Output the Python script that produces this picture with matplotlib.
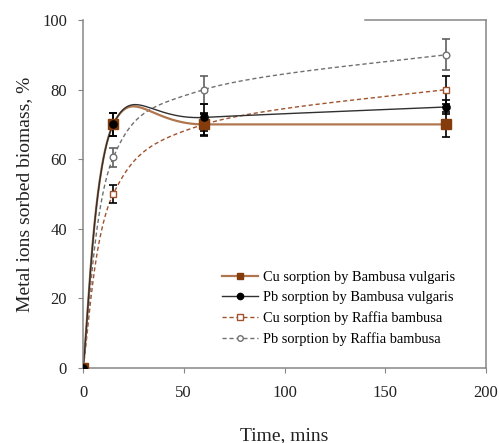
import numpy as np
import matplotlib
matplotlib.use("Agg")
import matplotlib.pyplot as plt
from matplotlib.lines import Line2D

# ---- data ----
time = [0, 15, 60, 180]
cu_bv = [0, 70, 70, 70]
pb_bv = [0, 70, 72, 75]
cu_rb = [0, 50, 70, 80]
pb_rb = [0, 60.5, 80, 90]
err_cu_bv = [0, 3.3, 3.3, 3.5]
err_pb_bv = [0, 3.3, 4.0, 2.0]
err_cu_rb = [0, 2.5, 3.0, 4.0]
err_pb_rb = [0, 2.7, 4.0, 4.5]
labels = ["Cu sorption by Bambusa vulgaris",
          "Pb sorption by Bambusa vulgaris",
          "Cu sorption by Raffia bambusa",
          "Pb sorption by Raffia bambusa"]
xticks = [0, 50, 100, 150, 200]
yticks = [0, 20, 40, 60, 80, 100]


def smooth(xs, ys, n=60):
    """Excel-style smoothed line (Catmull-Rom Bezier)."""
    P = np.column_stack([xs, ys]).astype(float)
    m = len(P)
    out = []
    for i in range(m - 1):
        p0 = P[max(i - 1, 0)]
        p1 = P[i]
        p2 = P[i + 1]
        p3 = P[min(i + 2, m - 1)]
        c1 = p1 + (p2 - p0) / 6.0
        c2 = p2 - (p3 - p1) / 6.0
        t = np.linspace(0, 1, n)[:, None]
        seg = ((1 - t) ** 3) * p1 + 3 * ((1 - t) ** 2) * t * c1 \
            + 3 * (1 - t) * t ** 2 * c2 + t ** 3 * p2
        out.append(seg if i == 0 else seg[1:])
    c = np.vstack(out)
    return c[:, 0], c[:, 1]


plt.rcParams['font.family'] = ['Liberation Serif', 'DejaVu Serif']

W, H = 499, 443
fig = plt.figure(figsize=(W / 100, H / 100), dpi=100)
L, R, T, B = 83, 486, 20, 368
ax = fig.add_axes([L / W, 1 - B / H, (R - L) / W, (B - T) / H])

brown = '#843c0c'
brown_line = '#b0764f'
brown_dash = '#a0522d'
gray = '#707070'

# curves
x, y = smooth(time, cu_rb)
ax.plot(x, y, color=brown_dash, lw=1.0, ls=(0, (3, 2)), zorder=2)
x, y = smooth(time, pb_rb)
ax.plot(x, y, color=gray, lw=1.0, ls=(0, (3, 2)), zorder=2)
x, y = smooth(time, cu_bv)
ax.plot(x, y, color=brown_line, lw=1.6, zorder=2)
x, y = smooth(time, pb_bv)
ax.plot(x, y, color='#303030', lw=1.0, zorder=2)

# error bars
ekw = dict(fmt='none', capsize=3.2, elinewidth=1.2, capthick=1.2, zorder=3)
ax.errorbar(time, pb_rb, yerr=err_pb_rb, ecolor='#606060', **ekw)
ax.errorbar(time, cu_rb, yerr=err_cu_rb, ecolor='black', **ekw)
ax.errorbar(time, cu_bv, yerr=err_cu_bv, ecolor='black', **ekw)
ax.errorbar(time, pb_bv, yerr=err_pb_bv, ecolor='black', **ekw)

# markers
ax.plot(time, pb_rb, ls='none', marker='o', ms=4.8, mfc='white', mec=gray, mew=1.0, zorder=4)
ax.plot(time, cu_rb, ls='none', marker='s', ms=5.0, mfc='white', mec=brown_dash, mew=1.0, zorder=4)
ax.plot(time, cu_bv, ls='none', marker='s', ms=6.5, mfc=brown, mec=brown, zorder=4)
ax.plot(time, pb_bv, ls='none', marker='o', ms=5.2, mfc='black', mec='black', zorder=5)

ax.set_xlim(0, 200)
ax.set_ylim(0, 100)
ax.set_xticks(xticks)
ax.set_yticks(yticks)

spc = '#868686'
for s in ['left', 'bottom', 'right']:
    ax.spines[s].set_color(spc)
    ax.spines[s].set_linewidth(1.1)
ax.spines['top'].set_visible(False)
ax.plot([0.7, 1.0], [1.0, 1.0], transform=ax.transAxes, color=spc, lw=1.1, clip_on=False)

ax.tick_params(axis='both', direction='out', length=3.5, width=0.8, color=spc,
               labelsize=12, labelcolor='#222222')
ax.tick_params(axis='y', pad=8)
ax.tick_params(axis='x', pad=9)

ax.set_xlabel('Time, mins', fontsize=14, color='#222222')
ax.set_ylabel('Metal ions sorbed biomass, %', fontsize=14, color='#222222')
ax.xaxis.set_label_coords(0.5, -0.17)
ax.yaxis.set_label_coords(-0.125, 0.5)

handles = [
    Line2D([], [], color=brown_line, lw=1.6, marker='s', ms=5, mfc=brown, mec=brown),
    Line2D([], [], color='#303030', lw=1.0, marker='o', ms=4.5, mfc='black', mec='black'),
    Line2D([], [], color=brown_dash, lw=1.0, ls=(0, (3, 2)), marker='s', ms=4.5, mfc='white', mec=brown_dash),
    Line2D([], [], color=gray, lw=1.0, ls=(0, (3, 2)), marker='o', ms=4, mfc='white', mec=gray),
]
fig.legend(handles, labels, loc='center left', bbox_to_anchor=(221.7 / W, 1 - 308.3 / H),
           bbox_transform=fig.transFigure, frameon=False, fontsize=10.4,
           handlelength=2.5, handletextpad=0.35, labelspacing=0.5,
           borderpad=0, borderaxespad=0)

fig.savefig('out.png', dpi=100)
